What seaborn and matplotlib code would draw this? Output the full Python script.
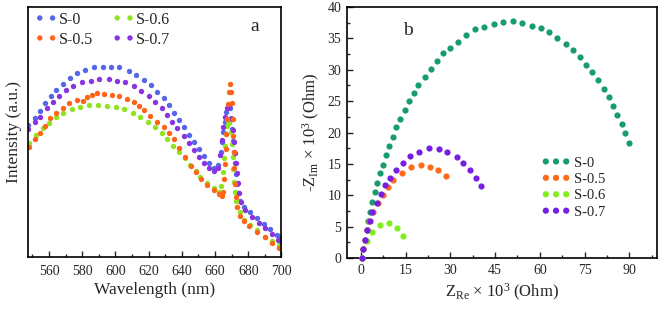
import pandas as pd
import matplotlib
matplotlib.use("Agg")
import matplotlib.pyplot as plt
import seaborn as sns

# -------- DATA: panel a (PL spectra) --------
wl_s0 = [547.5, 551.6, 554.6, 557.6, 561.0, 564.2, 568.3, 572.7, 577.1, 581.9, 587.2, 592.4, 597.2, 602.4,
         607.9, 612.5, 616.9, 621.4, 625.0, 629.0, 632.0, 635.0, 638.0, 641.0, 644.1, 647.1, 650.1, 653.1,
         656.1, 659.2, 662.0, 663.6, 664.3, 665.0, 665.7, 666.6, 667.6, 668.8, 669.8, 670.4, 670.9, 671.4,
         671.9, 672.4, 673.0, 673.8, 675.0, 677.2, 681.2, 685.2, 689.2, 693.2, 697.2, 700.0]
int_s0 = [52.8, 55.5, 58.5, 61.5, 64.4, 66.8, 69.2, 71.5, 73.5, 74.8, 75.9, 76.1, 76.1, 75.9,
          74.5, 72.8, 70.8, 68.8, 66.1, 63.5, 60.8, 57.7, 54.8, 52.1, 48.8, 46.1, 43.1, 40.2,
          37.6, 35.6, 36.8, 42.0, 46.0, 50.0, 54.0, 58.0, 60.5, 59.5, 55.5, 51.0, 46.5, 42.0,
          37.5, 33.0, 29.0, 25.5, 22.5, 20.1, 18.0, 15.6, 13.2, 11.0, 8.8, 7.8]

wl_s5 = [548.1, 551.5, 554.5, 557.6, 560.6, 564.2, 568.2, 572.2, 576.7, 580.3, 582.7, 585.7, 589.1, 593.2,
         597.8, 602.4, 606.9, 610.9, 613.9, 617.3, 620.9, 625.0, 629.0, 632.0, 635.0, 638.5, 642.0, 645.5,
         648.5, 651.5, 655.1, 659.1, 662.5, 664.2, 665.0, 665.6, 666.0, 666.4, 666.8, 667.3, 667.8, 668.3,
         668.8, 669.6, 670.2, 670.5, 670.8, 671.1, 671.4, 671.8, 672.3, 673.2, 675.2, 677.5, 680.2, 685.3,
         690.3, 694.4, 698.4]
int_s5 = [44.1, 47.1, 49.7, 52.4, 55.5, 57.5, 59.7, 61.5, 62.8, 62.5, 63.9, 64.8, 65.5, 65.1,
          64.8, 64.4, 63.1, 61.9, 60.5, 58.8, 56.5, 54.1, 51.9, 49.5, 47.1, 43.5, 40.0, 36.5,
          33.8, 31.3, 28.8, 26.8, 25.2, 24.4, 26.0, 31.0, 37.0, 43.0, 49.0, 55.0, 61.0, 66.0,
          69.2, 66.0, 61.5, 55.0, 48.5, 42.0, 35.5, 29.0, 24.0, 20.0, 16.3, 14.2, 12.4, 10.1,
          7.9, 5.7, 3.7]

wl_s6 = [548.1, 552.1, 556.2, 560.2, 564.2, 568.6, 573.7, 578.7, 584.3, 589.7, 594.8, 600.4, 605.2,
         610.5, 614.9, 619.5, 623.9, 628.0, 631.0, 634.6, 638.0, 642.1, 645.1, 648.5, 651.1, 655.1,
         659.1, 662.1, 663.5, 664.5, 665.2, 665.8, 666.4, 667.0, 667.8, 668.6, 669.4, 670.0, 670.5,
         670.9, 671.3, 671.8, 672.5, 673.5, 675.2, 677.2, 681.2, 685.3, 690.3, 694.4, 698.4, 700.0]
int_s6 = [45.7, 48.8, 51.5, 53.7, 55.9, 57.7, 59.2, 60.1, 60.8, 60.8, 60.5, 59.9, 59.1,
          57.7, 55.9, 54.1, 51.9, 49.5, 47.1, 44.4, 42.1, 39.5, 36.8, 34.3, 32.1, 29.5,
          27.5, 26.1, 28.5, 34.0, 39.5, 44.5, 49.0, 52.5, 54.5, 53.5, 50.0, 45.0, 40.0,
          35.0, 30.0, 26.0, 22.5, 20.0, 18.1, 14.8, 12.6, 10.8, 7.9, 6.5, 4.8, 4.2]

wl_s7 = [547.5, 551.5, 554.5, 558.6, 562.2, 566.2, 570.2, 574.6, 579.7, 585.1, 590.3, 595.8, 600.8,
         605.8, 610.9, 615.3, 619.9, 624.0, 628.0, 631.0, 634.0, 637.0, 641.0, 644.0, 647.1, 650.1,
         653.1, 656.1, 659.1, 661.8, 663.2, 664.2, 664.8, 665.8, 667.2, 668.6, 670.0, 671.0, 671.6,
         672.1, 672.6, 673.2, 673.8, 674.5, 675.7, 678.3, 682.3, 686.3, 690.3, 694.4, 697.8, 700.0]
int_s7 = [51.1, 54.1, 56.1, 59.5, 61.9, 64.4, 66.8, 68.5, 69.9, 70.4, 71.1, 71.2, 70.5,
          69.9, 68.4, 66.5, 64.4, 61.9, 59.5, 56.8, 54.1, 51.5, 48.4, 45.5, 42.8, 40.1,
          37.5, 35.5, 34.3, 35.5, 40.8, 46.8, 52.0, 56.0, 59.5, 60.5, 55.0, 50.8, 46.1,
          41.5, 37.5, 33.5, 29.5, 25.5, 22.1, 18.8, 16.1, 13.7, 11.5, 9.1, 6.8, 6.3]

# -------- DATA: panel b (Nyquist, x10^3 Ohm) --------
zre_s0 = [0.2, 0.8, 1.3, 1.9, 2.4, 3.0, 3.8, 4.6, 5.5, 6.4, 7.3, 8.3, 9.5, 10.6, 11.7, 13.1, 14.7,
          16.2, 17.8, 19.2, 21.4, 23.4, 25.4, 27.4, 29.9, 32.7, 35.2, 38.3, 41.4, 44.6, 47.8, 50.9,
          54.1, 57.3, 60.4, 63.2, 65.9, 68.7, 71.2, 73.5, 75.5, 77.5, 79.5, 81.5, 83.1, 84.7, 86.0,
          87.6, 88.7, 90.0]
zim_s0 = [0.0, 1.4, 2.9, 4.4, 5.9, 7.4, 8.9, 10.5, 12.0, 13.5, 14.9, 16.4, 17.9, 19.3, 20.8, 22.2, 23.6,
          25.0, 26.3, 27.5, 28.8, 30.1, 31.4, 32.6, 33.5, 34.4, 35.5, 36.5, 36.8, 37.3, 37.6, 37.7,
          37.4, 37.0, 36.6, 36.0, 35.0, 34.1, 33.1, 32.1, 30.8, 29.6, 28.3, 26.9, 25.6, 24.2, 22.8,
          21.3, 19.9, 18.4]

zre_s5 = [0.2, 0.7, 1.3, 2.0, 2.8, 4.1, 5.8, 7.3, 8.9, 10.8, 13.7, 16.8, 20.0, 23.2, 25.9, 28.5]
zim_s5 = [0.0, 1.4, 2.9, 4.4, 5.9, 7.4, 8.8, 10.1, 11.3, 12.5, 13.6, 14.5, 14.8, 14.5, 14.0, 13.0]

zre_s6 = [0.4, 1.9, 3.6, 6.4, 9.5, 12.0, 14.0]
zim_s6 = [0.0, 2.7, 4.1, 5.3, 5.6, 4.8, 3.5]

zre_s7 = [0.2, 0.8, 1.3, 2.1, 3.0, 3.8, 5.3, 6.6, 8.1, 9.7, 11.7, 14.0, 16.4, 19.5, 22.8, 26.2,
          29.0, 32.1, 34.3, 36.6, 38.6, 40.2]
zim_s7 = [0.0, 1.4, 2.9, 4.4, 5.9, 7.4, 8.8, 10.2, 11.6, 12.8, 14.1, 15.2, 16.2, 16.9, 17.5, 17.3,
          16.9, 16.1, 15.2, 14.1, 12.8, 11.4]

labels = ["S-0", "S-0.5", "S-0.6", "S-0.7"]
colors_a = ["#5566e6", "#ff6418", "#8ee41e", "#8a33e0"]
colors_b = ["#179c6c", "#ff6a1a", "#80ee1c", "#781ee4"]

# -------- STYLE --------
sns.set_theme(style="ticks")
plt.rcParams['font.family'] = ['Liberation Serif', 'DejaVu Serif']
plt.rcParams['mathtext.fontset'] = 'custom'
plt.rcParams['mathtext.rm'] = 'Liberation Serif'
plt.rcParams['mathtext.it'] = 'Liberation Serif:italic'
plt.rcParams['axes.linewidth'] = 1.2
plt.rcParams['axes.edgecolor'] = 'black'

fig = plt.figure(figsize=(6.6, 3.09), dpi=100)
ax1 = fig.add_axes([0.0424, 0.1683, 0.3841, 0.8091])
ax2 = fig.add_axes([0.5253, 0.165, 0.4697, 0.8123])

# -------- PANEL a --------
series_a = [(wl_s0, int_s0), (wl_s5, int_s5), (wl_s6, int_s6), (wl_s7, int_s7)]
handles_a = {}
for idx in [0, 2, 3, 1]:
    x, y = series_a[idx]
    df = pd.DataFrame({"wl": x, "I": y})
    sns.scatterplot(data=df, x="wl", y="I", color=colors_a[idx], s=15, linewidth=0,
                    label=labels[idx], ax=ax1, legend=False)
    handles_a[idx] = ax1.collections[-1]

ax1.set_xlim(547.3, 700)
ax1.set_ylim(0, 100)
ax1.set_xticks(range(560, 701, 20))
ax1.set_xticks(range(550, 701, 10), minor=True)
ax1.set_yticks([])
ax1.tick_params(axis='x', which='major', direction='in', length=4, width=1, labelsize=10, pad=6, top=False)
ax1.tick_params(axis='x', which='minor', direction='in', length=2, width=1, top=False)
ax1.set_xlabel("Wavelength (nm)", fontsize=12.5, labelpad=3)
ax1.set_ylabel("Intensity (a.u.)", fontsize=12.5, labelpad=4)
ax1.text(0.895, 0.92, "a", transform=ax1.transAxes, fontsize=14, ha='center', va='center')
ax1.legend([handles_a[i] for i in range(4)], labels, ncol=2, loc='upper left',
           bbox_to_anchor=(-0.01, 1.02), frameon=False, scatterpoints=2, scatteryoffsets=[0.5],
           fontsize=11.5, handletextpad=0.1, columnspacing=1.2, labelspacing=0.25,
           handlelength=1.4, borderaxespad=0.2)

# -------- PANEL b --------
series_b = [(zre_s0, zim_s0), (zre_s5, zim_s5), (zre_s6, zim_s6), (zre_s7, zim_s7)]
handles_b = {}
for idx in range(4):
    x, y = series_b[idx]
    df = pd.DataFrame({"zre": x, "zim": y})
    sns.scatterplot(data=df, x="zre", y="zim", color=colors_b[idx], s=20, linewidth=0,
                    label=labels[idx], ax=ax2, legend=False, clip_on=False, zorder=3)
    handles_b[idx] = ax2.collections[-1]

ax2.set_xlim(-4.8, 99.2)
ax2.set_ylim(0, 40)
ax2.set_xticks(range(0, 91, 15))
ax2.set_xticks([7.5 + 15 * k for k in range(7)], minor=True)
ax2.set_yticks(range(0, 41, 5))
ax2.set_yticks([2.5 + 5 * k for k in range(8)], minor=True)
ax2.tick_params(which='major', direction='in', length=4, width=1, labelsize=10, pad=4)
ax2.tick_params(which='minor', direction='in', length=2, width=1)
ax2.set_xlabel(r"Z$_{\mathrm{Re}}$ × 10$^{3}$ (Ohm)", fontsize=12, labelpad=4)
ax2.set_ylabel(r"-Z$_{\mathrm{Im}}$ × 10$^{3}$ (Ohm)", fontsize=12, labelpad=4)
ax2.text(0.197, 0.905, "b", transform=ax2.transAxes, fontsize=14, ha='center', va='center')
ax2.legend([handles_b[i] for i in range(4)], labels, loc='upper left',
           bbox_to_anchor=(0.6, 0.44), frameon=False, scatterpoints=3, scatteryoffsets=[0.5],
           fontsize=10.5, handletextpad=0.25, labelspacing=0.22, handlelength=2.0, borderaxespad=0.2)

fig.savefig("out.png", dpi=100)
